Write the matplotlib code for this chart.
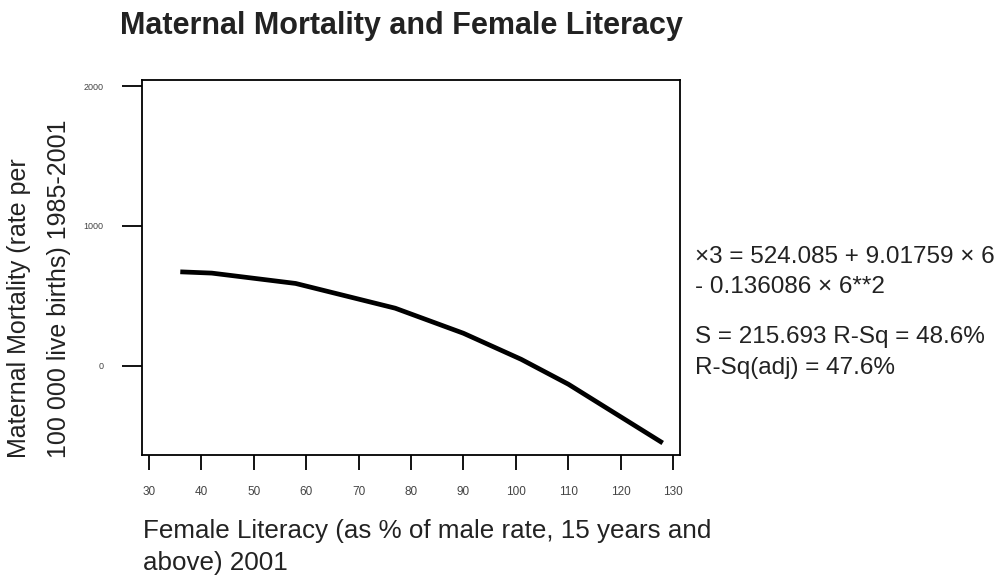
import matplotlib
matplotlib.use("Agg")
import matplotlib.pyplot as plt

plt.rcParams['font.family'] = ['Liberation Sans', 'DejaVu Sans']

# Fitted quadratic: literacy (x) vs maternal mortality (y)
literacy = [36, 42, 58, 77, 90, 101, 110, 128]
mortality = [672, 663, 589, 412, 233, 47, -131, -551]

x_ticks = [30, 40, 50, 60, 70, 80, 90, 100, 110, 120, 130]
y_ticks = [0, 1000, 2000]

title = "Maternal Mortality and Female Literacy"
y_label = "Maternal Mortality (rate per\n100 000 live births) 1985-2001"
x_label = "Female Literacy (as % of male rate, 15 years and\nabove) 2001"
fit_lines = ["\u00d73 = 524.085 + 9.01759 \u00d7 6",
             "- 0.136086 \u00d7 6**2"]
stat_lines = ["S = 215.693 R-Sq = 48.6%",
              "R-Sq(adj) = 47.6%"]

fig = plt.figure(figsize=(9.97, 5.76), dpi=100)
ax = fig.add_axes([142 / 997, 1 - 455 / 576, (680 - 142) / 997, (455 - 80) / 576])

ax.plot(literacy, mortality, color='black', lw=3.4, solid_capstyle='butt',
        solid_joinstyle='round')

ax.set_xlim(28.7, 131.3)
ax.set_ylim(-637, 2043)
ax.set_xticks(x_ticks)
ax.set_yticks(y_ticks)
ax.tick_params(axis='x', length=11, width=1.3, labelsize=8.5, pad=11,
               labelcolor='#444444')
ax.tick_params(axis='y', length=14.5, width=1.3, labelsize=6.5, pad=13,
               labelcolor='#444444')
for s in ax.spines.values():
    s.set_linewidth(1.3)

fig.text(120 / 997, 1 - 26 / 576, title, fontsize=22, fontweight='bold',
         ha='left', va='center', color='#222222')

fig.text(39 / 997, 1 - 458 / 576, y_label, fontsize=18, rotation=90,
         ha='center', va='bottom', color='#222222', linespacing=1.85,
         multialignment='left')

fig.text(143 / 997, 1 - 547 / 576, x_label, fontsize=18.7, ha='left',
         va='center', color='#222222', linespacing=1.42)

for i, line in enumerate(fit_lines):
    fig.text(695 / 997, 1 - (257 + 30 * i) / 576, line, fontsize=17.5,
             ha='left', va='center', color='#222222')
for i, line in enumerate(stat_lines):
    fig.text(695 / 997, 1 - (337 + 31 * i) / 576, line, fontsize=17.5,
             ha='left', va='center', color='#222222')

fig.savefig("out.png", dpi=100)
